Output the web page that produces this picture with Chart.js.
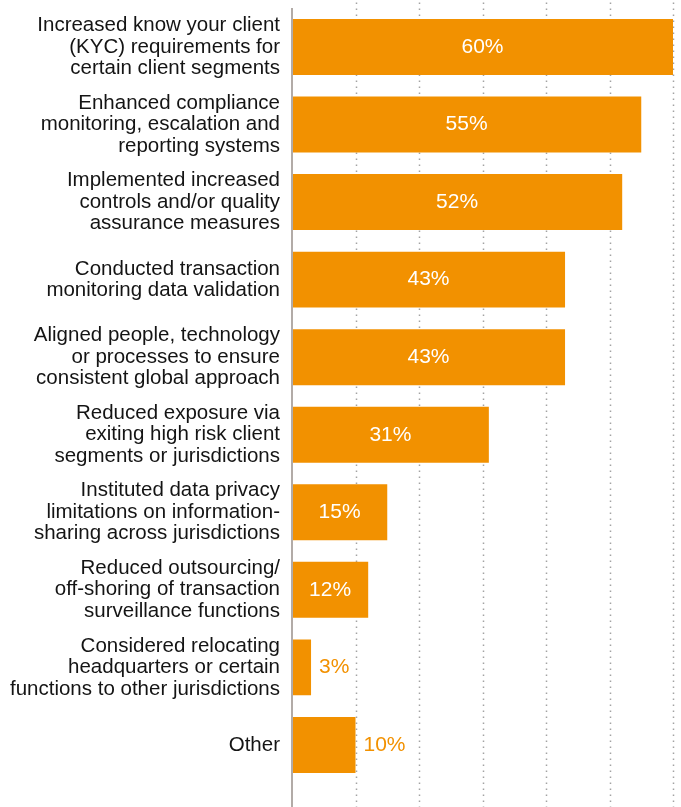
<!DOCTYPE html>
<html>
<head>
<meta charset="utf-8">
<script src="https://cdn.jsdelivr.net/npm/chart.js@4"></script>
<style>
  html, body { margin: 0; padding: 0; background: #ffffff; }
  #wrap { width: 681px; height: 807px; position: relative; }
</style>
</head>
<body>
<div id="wrap"><canvas id="c" width="681" height="807"></canvas></div>
<script>
const categories = [
  ["Increased know your client", "(KYC) requirements for", "certain client segments"],
  ["Enhanced compliance", "monitoring, escalation and", "reporting systems"],
  ["Implemented increased", "controls and/or quality", "assurance measures"],
  ["Conducted transaction", "monitoring data validation"],
  ["Aligned people, technology", "or processes to ensure", "consistent global approach"],
  ["Reduced exposure via", "exiting high risk client", "segments or jurisdictions"],
  ["Instituted data privacy", "limitations on information-", "sharing across jurisdictions"],
  ["Reduced outsourcing/", "off-shoring of transaction", "surveillance functions"],
  ["Considered relocating", "headquarters or certain", "functions to other jurisdictions"],
  ["Other"]
];
const values = [60, 55, 52, 43, 43, 31, 15, 12, 3, 10];
const gridTicks = [10, 20, 30, 40, 50, 60];

const ORANGE = '#F29100';
const FONT = '"Liberation Sans", Arial, Helvetica, sans-serif';

const guidePlugin = {
  id: 'guides',
  beforeDatasetsDraw(chart) {
    const ctx = chart.ctx;
    const xs = chart.scales.x;
    ctx.save();
    ctx.strokeStyle = '#a3a3a3';
    ctx.lineWidth = 1.5;
    ctx.setLineDash([1.5, 4.5]);
    gridTicks.forEach(v => {
      const x = Math.round(xs.getPixelForValue(v)) + 0.5;
      ctx.beginPath();
      ctx.moveTo(x, 2.5);
      ctx.lineTo(x, chart.height);
      ctx.stroke();
    });
    ctx.restore();
  },
  afterDatasetsDraw(chart) {
    const ctx = chart.ctx;
    const xs = chart.scales.x;
    ctx.save();
    ctx.strokeStyle = '#b2aba7';
    ctx.lineWidth = 2;
    const x0 = xs.getPixelForValue(0);
    ctx.beginPath();
    ctx.moveTo(x0, 8);
    ctx.lineTo(x0, chart.height);
    ctx.stroke();
    const meta = chart.getDatasetMeta(0);
    ctx.font = '21px ' + FONT;
    ctx.textBaseline = 'middle';
    meta.data.forEach((bar, i) => {
      const v = values[i];
      const txt = v + '%';
      if (v > 10) {
        ctx.fillStyle = '#ffffff';
        ctx.textAlign = 'center';
        ctx.fillText(txt, (bar.base + bar.x) / 2, bar.y);
      } else {
        ctx.fillStyle = ORANGE;
        ctx.textAlign = 'left';
        ctx.fillText(txt, bar.x + 8, bar.y);
      }
    });
    ctx.restore();
  }
};

new Chart(document.getElementById('c'), {
  type: 'bar',
  data: {
    labels: categories,
    datasets: [{
      data: values,
      backgroundColor: ORANGE,
      borderWidth: 0,
      categoryPercentage: 1,
      barPercentage: 0.722
    }]
  },
  options: {
    indexAxis: 'y',
    responsive: false,
    animation: false,
    devicePixelRatio: 1,
    layout: { padding: { top: 8.2, bottom: 23.3, left: 0, right: 8 } },
    plugins: { legend: { display: false }, tooltip: { enabled: false } },
    scales: {
      x: {
        display: false,
        min: 0,
        max: 60
      },
      y: {
        grid: { display: false, drawTicks: false },
        border: { display: false },
        ticks: {
          color: '#141414',
          padding: 12,
          font: { family: FONT, size: 20.5, lineHeight: 1.05 }
        },
        afterFit(scale) {
          scale.width = 292;
          scale.paddingTop = 0;
          scale.paddingBottom = 0;
        }
      }
    }
  },
  plugins: [guidePlugin]
});
</script>
</body>
</html>
